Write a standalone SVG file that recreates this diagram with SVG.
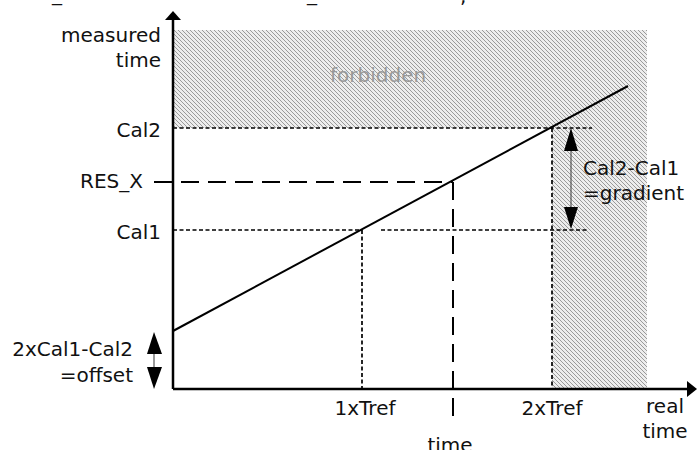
<svg xmlns="http://www.w3.org/2000/svg" width="697" height="450" viewBox="0 0 697 450">
<style>
text{font-family:"DejaVu Sans","Verdana",sans-serif;font-size:20px;fill:#111}
.r{text-anchor:end}
.m{text-anchor:middle}
.ax{stroke:#000;stroke-width:2.5;fill:none}
.sd{stroke:#000;stroke-width:1.7;stroke-dasharray:4 2.5;fill:none}
.ld{stroke:#000;stroke-width:2;stroke-dasharray:18 9;fill:none}
.dim{stroke:#555;stroke-width:1.2;fill:none}
.ah{fill:#000}
</style>
<defs>
<pattern id="hatch" patternUnits="userSpaceOnUse" width="4" height="4">
<rect width="4" height="4" fill="#ededed"/>
<path d="M-1,-1 L5,5 M-1,3 L1,5 M3,-1 L5,1" stroke="#9a9a9a" stroke-width="1"/>
</pattern>
</defs>
<text x="52" y="1">_</text>
<text x="307" y="1">_</text>
<text x="460" y="3">,</text>
<g id="forbidden">
<path d="M173,30 H647 V389 H552 V128 H173 Z" fill="url(#hatch)"/>
<text x="330" y="82" style="fill:#999">forbidden</text>
</g>
<g id="connectors">
<line class="sd" x1="173" y1="128" x2="592" y2="128"/>
<line class="sd" x1="173" y1="230" x2="362" y2="230"/>
<line class="sd" x1="381" y1="230" x2="587" y2="230"/>
<line class="sd" x1="552" y1="128" x2="552" y2="389"/>
<line class="sd" x1="362" y1="230" x2="362" y2="389"/>
<line class="ld" x1="154" y1="182" x2="453" y2="182"/>
<line class="ld" x1="453" y1="182" x2="453" y2="424"/>
<line x1="173" y1="331" x2="628" y2="86" stroke="#000" stroke-width="2"/>
<line class="ax" x1="173" y1="389" x2="173" y2="18"/>
<polygon class="ah" points="173,11 165,20 181,20"/>
<line class="ax" x1="173" y1="389" x2="688" y2="389"/>
<polygon class="ah" points="697,389 687,381 687,397"/>
<line class="dim" x1="571" y1="145" x2="571" y2="212"/>
<polygon class="ah" points="571,128 564,151 578,151"/>
<polygon class="ah" points="571,229 564,207 578,207"/>
<line class="dim" x1="154" y1="348" x2="154" y2="372"/>
<polygon class="ah" points="154,332 147,354 162,354"/>
<polygon class="ah" points="154,389 147,367 162,367"/>
</g>
<g id="labels">
<text class="r" x="161" y="42">measured</text>
<text class="r" x="161" y="67">time</text>
<text class="r" x="161" y="137">Cal2</text>
<text class="r" x="143" y="188">RES_X</text>
<text class="r" x="161" y="239">Cal1</text>
<text class="r" x="133" y="356">2xCal1-Cal2</text>
<text class="r" x="133" y="382">=offset</text>
<text x="583" y="175">Cal2-Cal1</text>
<text x="583" y="200">=gradient</text>
<text class="m" x="365" y="415">1xTref</text>
<text class="m" x="552" y="415">2xTref</text>
<text class="m" x="665" y="413">real</text>
<text class="m" x="665" y="438">time</text>
<text class="m" x="450" y="452">time</text>
</g>
</svg>
